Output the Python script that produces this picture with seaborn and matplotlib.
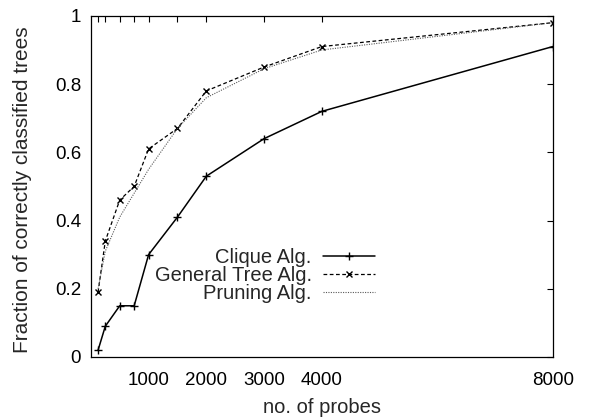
import matplotlib
matplotlib.use("Agg")
import matplotlib.pyplot as plt
import seaborn as sns
import pandas as pd

# data
probes = [125, 250, 500, 750, 1000, 1500, 2000, 3000, 4000, 8000]
clique = [0.02, 0.09, 0.15, 0.15, 0.30, 0.41, 0.53, 0.64, 0.72, 0.91]
general_tree = [0.19, 0.34, 0.46, 0.50, 0.61, 0.67, 0.78, 0.85, 0.91, 0.98]
pruning = [0.20, 0.31, 0.41, 0.48, 0.55, 0.67, 0.76, 0.845, 0.90, 0.98]
xlabels_shown = [1000, 2000, 3000, 4000, 8000]

sns.set_style("white")
plt.rcParams['font.family'] = ['Liberation Sans', 'DejaVu Sans']
plt.rcParams['font.size'] = 14.5

data = pd.DataFrame({"probes": probes, "clique": clique,
                     "general": general_tree, "pruning": pruning})

fig = plt.figure(figsize=(5.9, 4.17), dpi=100)
ax = fig.add_axes([0.154, 0.144, 0.783, 0.818])

sns.lineplot(data=data, x="probes", y="clique", ax=ax, color="black",
             linewidth=1.1, marker="+", markersize=6, markeredgewidth=1.0,
             markeredgecolor="black", label="Clique Alg.")
sns.lineplot(data=data, x="probes", y="general", ax=ax, color="black",
             linewidth=0.9, linestyle=(0, (3, 2)), marker="x", markersize=5,
             markeredgewidth=1.0, markeredgecolor="black",
             label="General Tree Alg.")
sns.lineplot(data=data, x="probes", y="pruning", ax=ax, color="0.35",
             linewidth=0.8, linestyle=(0, (1, 1.2)), label="Pruning Alg.")

ax.set_xlim(0, 8000)
ax.set_ylim(0, 1)

ax.set_xticks(probes)
ax.set_xticklabels([str(p) if p in xlabels_shown else "" for p in probes])
ax.set_yticks([0, 0.2, 0.4, 0.6, 0.8, 1.0])
ax.set_yticklabels(["0", "0.2", "0.4", "0.6", "0.8", "1"])
ax.tick_params(direction="in", length=4, width=0.8, top=True, right=True,
               labelsize=13.5, colors="black")
ax.tick_params(axis="x", pad=11)
ax.tick_params(axis="y", pad=7)

for s in ax.spines.values():
    s.set_color("black")
    s.set_linewidth(0.9)

ax.set_xlabel("no. of probes", fontsize=14.5)
ax.xaxis.set_label_coords(0.5, -0.12)
ax.set_ylabel("Fraction of correctly classified trees", fontsize=15)
ax.yaxis.set_label_coords(-0.128, 0.49)

leg = ax.legend(loc="upper right", bbox_to_anchor=(0.637, 0.35),
                frameon=False, markerfirst=False, handlelength=2.6,
                handletextpad=0.55, labelspacing=-0.03, fontsize=14.5,
                borderpad=0)

fig.savefig("out.png", dpi=100)
